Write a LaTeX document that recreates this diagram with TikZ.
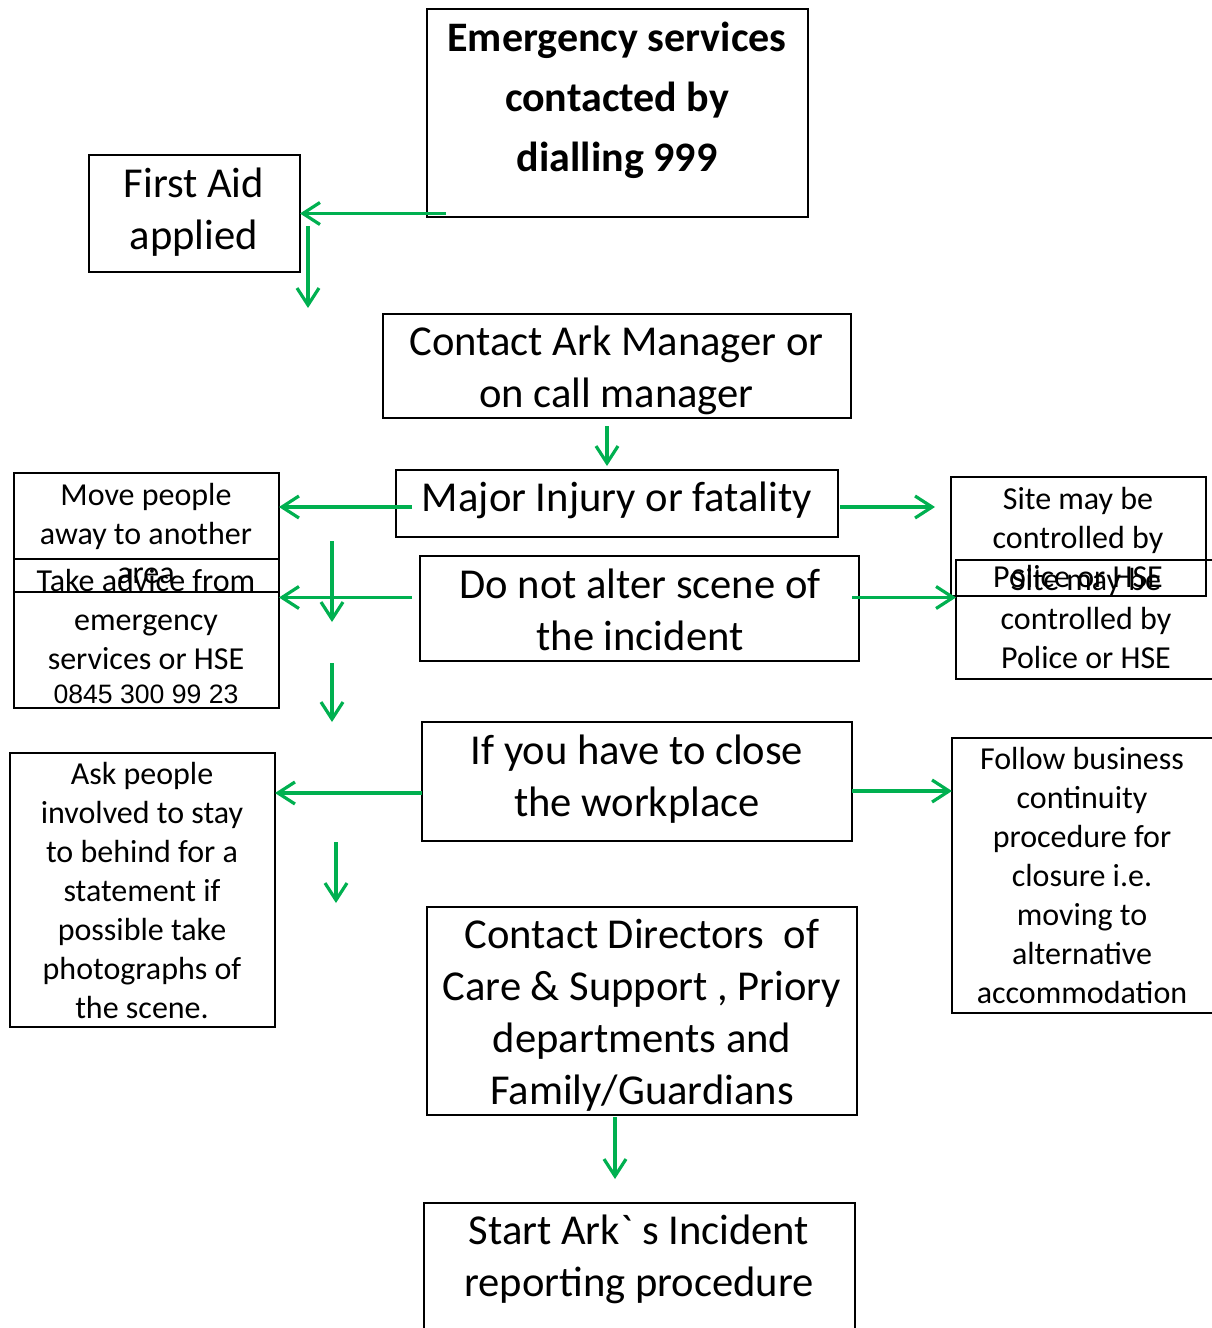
\documentclass[tikz,border=0pt]{standalone}
\usepackage{fontspec}
\setmainfont{Carlito}
\newfontfamily\arialf{Liberation Sans}
\usetikzlibrary{arrows.meta,calc}
\definecolor{arrgreen}{RGB}{0,176,80}
\tikzset{
  box/.style={draw=black, line width=2pt, inner sep=0pt, outer sep=0pt, anchor=north west},
  bigtxt/.style={anchor=north, inner sep=0pt, align=center, font=\fontsize{42.6}{52}\selectfont},
  smalltxt/.style={anchor=north, inner sep=0pt, align=center, font=\fontsize{32}{39}\selectfont},
  boldtxt/.style={anchor=north, inner sep=0pt, align=center, font=\fontsize{42}{60}\selectfont\bfseries},
  arr/.style={draw=arrgreen, line width=3.2pt, -{Straight Barb[length=17pt,width=22pt,line width=3.2pt]}}
}
\begin{document}
\begin{tikzpicture}[x=1pt,y=-1pt]
\useasboundingbox (0,0) rectangle (1211,1328);
% boxes
\node[box, minimum width=381pt, minimum height=208pt] (em) at (427,9) {};
\node[box, minimum width=211pt, minimum height=117pt] (fa) at (89,155) {};
\node[box, minimum width=468pt, minimum height=104pt] (ca) at (383,314) {};
\node[box, minimum width=442pt, minimum height=67pt] (mi) at (396,470) {};
\node[box, minimum width=265pt, minimum height=119pt] (mp) at (14,473) {};
\node[box, minimum width=265pt, minimum height=149pt] (ta) at (14,559) {};
\node[box, minimum width=439pt, minimum height=105pt] (dn) at (420,556) {};
\node[box, minimum width=255pt, minimum height=119pt] (s1) at (951,477) {};
\node[box, minimum width=280pt, minimum height=119pt] (s2) at (956,560) {};
\node[box, minimum width=430pt, minimum height=119pt] (iy) at (422,722) {};
\node[box, minimum width=265pt, minimum height=274pt] (ap) at (10,753) {};
\node[box, minimum width=280pt, minimum height=275pt] (fb) at (952,738) {};
\node[box, minimum width=430pt, minimum height=208pt] (cd) at (427,907) {};
\node[box, minimum width=431pt, minimum height=150pt] (sa) at (424,1203) {};
% texts
\node[boldtxt] (emT) at (617,9) {\strut Emergency services\\contacted by\\dialling 999};
\node[bigtxt] (faT) at (194,160.6) {\strut First Aid\\applied};
\node[bigtxt] (caT) at (616.5,318.6) {\strut Contact Ark Manager or\\on call manager};
\node[bigtxt] (miT) at (617,474.6) {\strut Major Injury or fatality};
\node[bigtxt] (dnT) at (640,561.6) {\strut Do not alter scene of\\the incident};
\node[bigtxt] (iyT) at (637,727.6) {\strut If you have to close\\the workplace};
\node[bigtxt] (cdT) at (642,911.6) {\strut Contact Directors~ of\\Care \& Support , Priory\\departments and\\Family/Guardians};
\node[bigtxt] (saT) at (639,1207.6) {\strut Start Ark\textasciigrave\ s Incident\\reporting procedure};
\node[smalltxt] (mpT) at (146,477.7) {\strut Move people\\away to another\\area};
\node[smalltxt] (taT) at (146,563.7) {\strut Take advice from\\emergency\\services or HSE\\[-4.5pt]{\arialf\fontsize{26.6}{30}\selectfont 0845 300 99 23}};
\node[smalltxt] (s1T) at (1078,481.7) {\strut Site may be\\controlled by\\Police or HSE};
\node[smalltxt] (s2T) at (1086,562.7) {\strut Site may be\\controlled by\\Police or HSE};
\node[smalltxt] (apT) at (142,756.7) {\strut Ask people\\involved to stay\\to behind for a\\statement if\\possible take\\photographs of\\the scene.};
\node[smalltxt] (fbT) at (1082,741.7) {\strut Follow business\\continuity\\procedure for\\closure i.e.\\moving to\\alternative\\accommodation};
% free arrow ends
\coordinate (b1) at (308,226);
\coordinate (b2) at (308,308);
\coordinate (f1) at (332,541);
\coordinate (f2) at (332,622);
\coordinate (i1) at (332,663);
\coordinate (i2) at (332,722);
\coordinate (l1) at (336,842);
\coordinate (l2) at (336,903);
% arrows
\draw[arr] ([xshift=19pt]fa.east -| em.west) -- (fa.east);
\draw[arr] (b1) -- (b2);
\draw[arr] ([xshift=-10pt,yshift=-8pt]ca.south) -- ([xshift=-10pt,yshift=4pt]mi.north);
\draw[arr] ([xshift=16pt,yshift=-3.5pt]mi.west) -- ([yshift=-3.5pt]mi.west -| mp.east);
\draw[arr] ([xshift=2pt,yshift=-3.5pt]mi.east) -- ([xshift=-16pt,yshift=-3.5pt]mi.east -| s1.west);
\draw[arr] (f1) -- (f2);
\draw[arr] ([xshift=-8pt,yshift=11pt]dn.west) -- ([yshift=11pt]dn.west -| ta.east);
\draw[arr] ([xshift=-7pt,yshift=11pt]dn.east) -- ([yshift=11pt]dn.east -| s2.west);
\draw[arr] (i1) -- (i2);
\draw[arr] ([yshift=-11.5pt]iy.west) -- ([yshift=-11.5pt]iy.west -| ap.east);
\draw[arr] ([yshift=-9.5pt]iy.east) -- ([yshift=-9.5pt]iy.east -| fb.west);
\draw[arr] (l1) -- (l2);
\draw[arr] ([xshift=-27pt,yshift=-2pt]cd.south) -- ([xshift=-24.5pt,yshift=24pt]sa.north);
\end{tikzpicture}
\end{document}
